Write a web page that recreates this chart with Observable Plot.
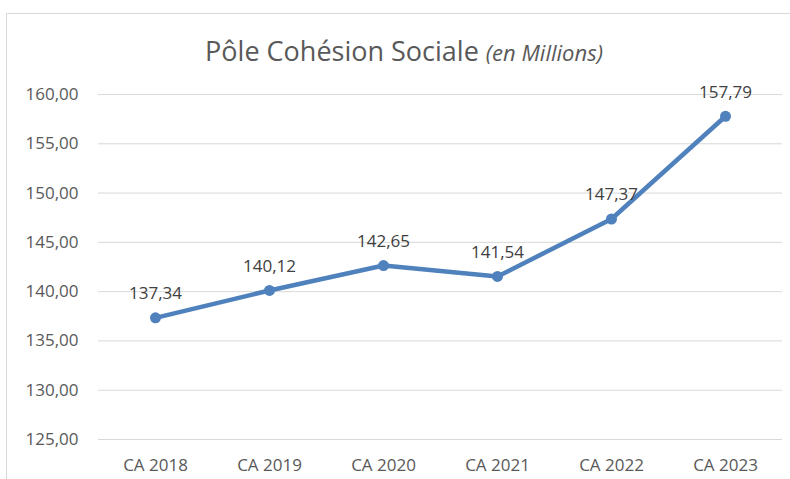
<!DOCTYPE html>
<html><head><meta charset="utf-8">
<script src="https://cdn.jsdelivr.net/npm/d3@7"></script>
<script src="https://cdn.jsdelivr.net/npm/@observablehq/plot@0.6"></script>
<style>
body{margin:0;background:#fff;font-family:"Open Sans",sans-serif;}
#frame{position:absolute;left:6px;top:13px;width:800px;height:480px;border:1px solid #d9d9d9;box-sizing:border-box;}
#title{position:absolute;left:-4px;top:34px;width:816px;text-align:center;color:#595959;font-size:27px;white-space:nowrap;line-height:34px;}
#title i{font-size:22px;}
#chart{position:absolute;left:0;top:70px;}
#chart svg text{font-size:17px;}
</style></head>
<body>
<div id="frame"></div>
<div id="title">Pôle Cohésion Sociale <i>(en Millions)</i></div>
<div id="chart"></div>
<script>
const categories = ["CA 2018","CA 2019","CA 2020","CA 2021","CA 2022","CA 2023"];
const values = [137.34, 140.12, 142.65, 141.54, 147.37, 157.79];
const yTicks = [125,130,135,140,145,150,155,160];
const data = categories.map((c,i)=>({cat:c, v:values[i]}));
const fr = v => d3.format(".2f")(v).replace(".", ",");
const plot = Plot.plot({
  width: 782, height: 409,
  marginLeft: 98, marginRight: 0, marginTop: 24, marginBottom: 40,
  style:{fontFamily:'"Open Sans",sans-serif', fontSize:"17px", color:"#595959", background:"transparent", overflow:"visible"},
  x:{type:"band", domain:categories, padding:0, label:null},
  y:{domain:[125,160], label:null},
  marks:[
    Plot.ruleY(yTicks,{stroke:"#d9d9d9", strokeWidth:1}),
    Plot.axisX({tickSize:0, tickPadding:19, fill:"#595959", label:null}),
    Plot.axisY({ticks:yTicks, tickFormat:fr, tickSize:0, tickPadding:20, fill:"#595959", label:null}),
    Plot.line(data,{x:"cat", y:"v", stroke:"#4f81bd", strokeWidth:4.5, curve:"linear"}),
    Plot.dot(data,{x:"cat", y:"v", fill:"#4f81bd", r:5.5}),
    Plot.text(data,{x:"cat", y:"v", text:d=>fr(d.v), dy:-24, fill:"#404040"})
  ]
});
document.getElementById("chart").appendChild(plot);
</script>
</body></html>
